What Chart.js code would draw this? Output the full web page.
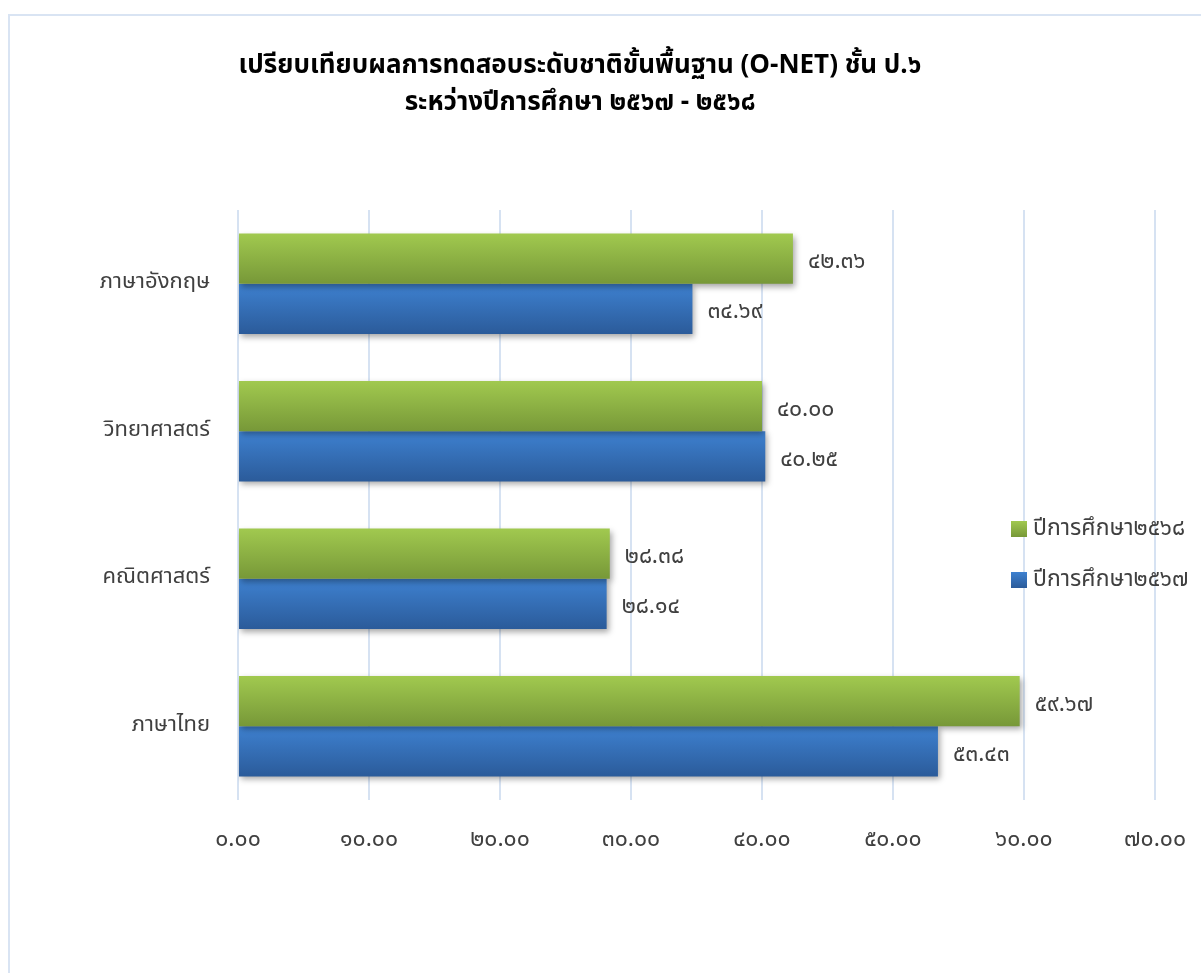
<!DOCTYPE html>
<html>
<head>
<meta charset="utf-8">
<script src="https://cdn.jsdelivr.net/npm/chart.js@4.4.1/dist/chart.umd.min.js"></script>
<style>
  body { margin: 0; background: #fff; }
  #wrap { position: relative; width: 1201px; height: 973px; overflow: hidden; }
  #frame { position: absolute; left: 8px; top: 14px; width: 1300px; height: 1000px;
           border-left: 2px solid #D9E4F3; border-top: 2px solid #D9E4F3; }
  #myChart { position: absolute; left: 0; top: 0; }
</style>
</head>
<body>
<div id="wrap">
  <div id="frame"></div>
  <canvas id="myChart" width="1201" height="973"></canvas>
</div>
<script>
// data
var categories = ['ภาษาอังกฤษ', 'วิทยาศาสตร์', 'คณิตศาสตร์', 'ภาษาไทย'];
var seriesNames = ['ปีการศึกษา๒๕๖๘', 'ปีการศึกษา๒๕๖๗'];
var scores2568 = [42.36, 40.00, 28.38, 59.67];
var scores2567 = [34.69, 40.25, 28.14, 53.43];
var xMin = 0, xMax = 70, xStep = 10;
var titleLines = ['เปรียบเทียบผลการทดสอบระดับชาติขั้นพื้นฐาน (O-NET) ชั้น ป.๖', 'ระหว่างปีการศึกษา ๒๕๖๗ - ๒๕๖๘'];

var thaiDigits = '๐๑๒๓๔๕๖๗๘๙';
function toThai(s) {
    return String(s).replace(/[0-9]/g, function(d) { return thaiDigits[d]; });
}

var FONT = "Tahoma, 'Noto Sans Thai', 'Noto Sans', sans-serif";
var TEXT = '#404040';

// top/bottom gradient colours per dataset
var shades = [
    ['#A1C94F', '#779838', '#8DB244'],
    ['#3E81D0', '#2B5B9A', '#3670B8']
];

function barGradient(ctx, el, i) {
    var top = el.y - el.height / 2;
    var g = ctx.createLinearGradient(0, top, 0, top + el.height);
    g.addColorStop(0, shades[i][0]);
    g.addColorStop(1, shades[i][1]);
    return g;
}

var gradientBars = {
    id: 'gradientBars',
    beforeDatasetsDraw: function(chart) {
        var ctx = chart.ctx;
        chart.data.datasets.forEach(function(ds, i) {
            chart.getDatasetMeta(i).data.forEach(function(el) {
                el.options = Object.assign({}, el.options, {backgroundColor: barGradient(ctx, el, i)});
            });
        });
        ctx.save();
        ctx.shadowColor = 'rgba(0,0,0,0.35)';
        ctx.shadowBlur = 6;
        ctx.shadowOffsetX = 2;
        ctx.shadowOffsetY = 3;
    },
    afterDatasetsDraw: function(chart) {
        var ctx = chart.ctx;
        ctx.restore();
        // value labels
        ctx.save();
        ctx.font = "23px " + FONT;
        ctx.fillStyle = TEXT;
        ctx.textAlign = 'left';
        ctx.textBaseline = 'middle';
        chart.data.datasets.forEach(function(ds, i) {
            chart.getDatasetMeta(i).data.forEach(function(el, j) {
                ctx.fillText(toThai(ds.data[j].toFixed(2)), el.x + 15, el.y + 5);
            });
        });
        ctx.restore();
    },
    afterDraw: function(chart) {
        var ctx = chart.ctx;
        ctx.save();
        // title
        ctx.fillStyle = '#000';
        ctx.textAlign = 'center';
        ctx.textBaseline = 'middle';
        ctx.font = "bold 26px " + FONT;
        ctx.fillText(titleLines[0], 580, 68);
        ctx.fillText(titleLines[1], 580, 105);
        // legend
        ctx.font = "23px " + FONT;
        ctx.textAlign = 'left';
        var ys = [529, 580];
        chart.data.datasets.forEach(function(ds, i) {
            var g = ctx.createLinearGradient(0, ys[i] - 8, 0, ys[i] + 8);
            g.addColorStop(0, shades[i][0]);
            g.addColorStop(1, shades[i][1]);
            ctx.fillStyle = g;
            ctx.fillRect(1011, ys[i] - 8, 16, 16);
            ctx.fillStyle = TEXT;
            ctx.fillText(ds.label, 1033, ys[i] + 1);
        });
        ctx.restore();
    }
};

function MakeGraph() {
    const chart = document.getElementById('myChart');

    var year68 = {
        label: seriesNames[0],
        data: scores2568,
        backgroundColor: shades[0][2],
        categoryPercentage: 0.68,
        barPercentage: 1.0
    };

    var year67 = {
        label: seriesNames[1],
        data: scores2567,
        backgroundColor: shades[1][2],
        categoryPercentage: 0.68,
        barPercentage: 1.0
    };

    new Chart(chart, {
        type: 'bar',
        data: {
            labels: categories,
            datasets: [year68, year67]
        },
        plugins: [gradientBars],
        options: {
            indexAxis: 'y',
            responsive: false,
            animation: false,
            layout: { padding: { top: 210, right: 46, bottom: 0, left: 0 } },
            plugins: {
                legend: { display: false },
                title: { display: false },
                tooltip: { enabled: false }
            },
            scales: {
                x: {
                    min: xMin,
                    max: xMax,
                    border: { display: false },
                    grid: { color: '#D6E2F2', lineWidth: 2, drawTicks: false },
                    ticks: {
                        stepSize: xStep,
                        padding: 28,
                        color: TEXT,
                        font: { size: 23, family: FONT },
                        callback: function(v) { return toThai(Number(v).toFixed(2)); }
                    },
                    afterFit: function(scale) {
                        scale.height = 173;
                        scale.paddingLeft = 0;
                        scale.paddingRight = 0;
                    }
                },
                y: {
                    border: { display: false },
                    grid: { display: false, drawTicks: false },
                    ticks: {
                        padding: 28,
                        color: TEXT,
                        font: { size: 22, family: FONT }
                    },
                    afterFit: function(scale) {
                        scale.width = 238;
                        scale.paddingTop = 0;
                        scale.paddingBottom = 0;
                    }
                }
            }
        }
    });
}

window.addEventListener('load', MakeGraph);
</script>
</body>
</html>
